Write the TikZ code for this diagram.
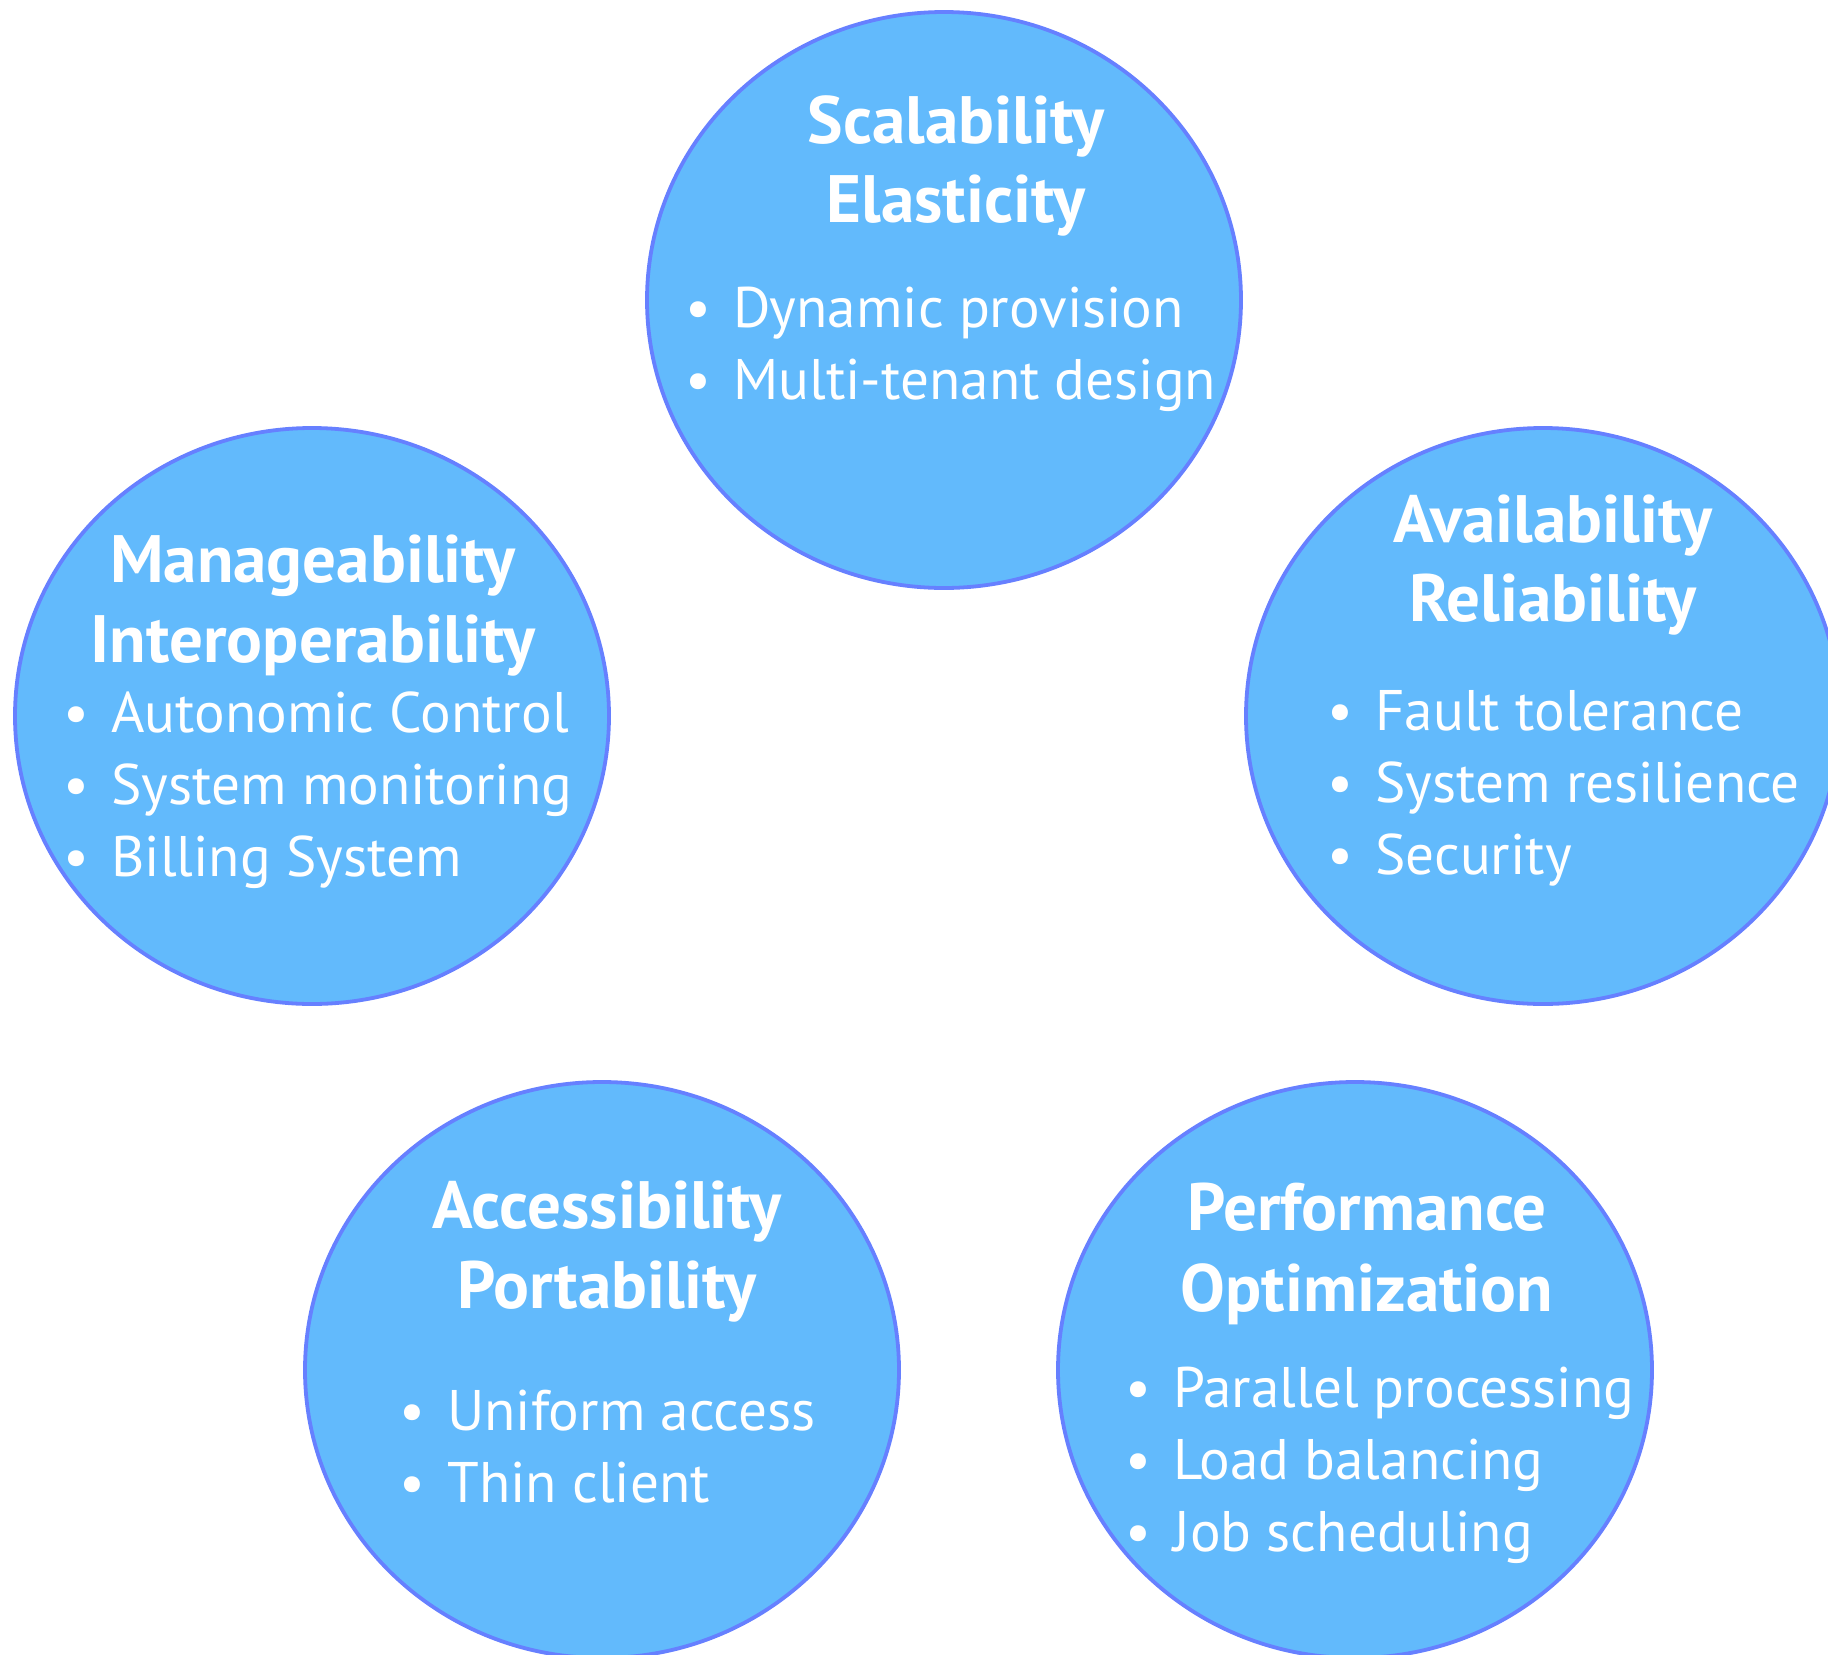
\documentclass[tikz,border=0pt]{standalone}
\usepackage{fontspec}
\setmainfont{PT Sans}
\usetikzlibrary{shapes.geometric}
\definecolor{circfill}{RGB}{98,186,252}
\definecolor{circline}{RGB}{102,128,255}
\tikzset{
 topic/.style={ellipse, draw=circline, fill=circfill, line width=1.9pt, minimum width=297pt, minimum height=288pt, inner sep=0pt},
 heading/.style={anchor=base, text=white, font=\bfseries\fontsize{33.5}{38}\selectfont, inner sep=0pt},
 item/.style={anchor=base west, text=white, font=\fontsize{28.6}{34}\selectfont, inner sep=0pt},
}
\newcommand{\bul}[1]{\makebox[24pt][l]{•}#1}
\begin{document}
\begin{tikzpicture}[x=0.5pt,y=-0.5pt]
\useasboundingbox[fill=white] (0,0) rectangle (1828,1655);
% circles
\node[topic] (scal) at (944,300) {};
\node[topic] (mana) at (312,716) {};
\node[topic] (avai) at (1543,716) {};
\node[topic] (acce) at (602,1370) {};
\node[topic] (perf) at (1355,1370) {};
% top
\node[heading] (scalT1) at (956,143) {Scalability};
\node[heading] (scalT2) at (956,222) {Elasticity};
\node[item] (scalI1) at (685,327) {\bul{Dynamic provision}};
\node[item] (scalI2) at (685,399) {\bul{Multi-tenant design}};
% left
\node[heading] (manaT1) at (313,582) {Manageability};
\node[heading] (manaT2) at (313,662) {Interoperability};
\node[item] (manaI1) at (63,732) {\bul{Autonomic Control}};
\node[item] (manaI2) at (63,804) {\bul{System monitoring}};
\node[item] (manaI3) at (63,876) {\bul{Billing System}};
% right
\node[heading] (avaiT1) at (1553,542) {Availability};
\node[heading] (avaiT2) at (1553,621) {Reliability};
\node[item] (avaiI1) at (1327,730) {\bul{Fault tolerance}};
\node[item] (avaiI2) at (1327,802) {\bul{System resilience}};
\node[item] (avaiI3) at (1327,874) {\bul{Security}};
% bottom left
\node[heading] (acceT1) at (607,1228) {Accessibility};
\node[heading] (acceT2) at (607,1308) {Portability};
\node[item] (acceI1) at (399,1430) {\bul{Uniform access}};
\node[item] (acceI2) at (399,1502) {\bul{Thin client}};
% bottom right
\node[heading] (perfT1) at (1367,1230) {Performance};
\node[heading] (perfT2) at (1367,1311) {Optimization};
\node[item] (perfI1) at (1125,1407) {\bul{Parallel processing}};
\node[item] (perfI2) at (1125,1479) {\bul{Load balancing}};
\node[item] (perfI3) at (1125,1551) {\bul{Job scheduling}};
\end{tikzpicture}
\end{document}
